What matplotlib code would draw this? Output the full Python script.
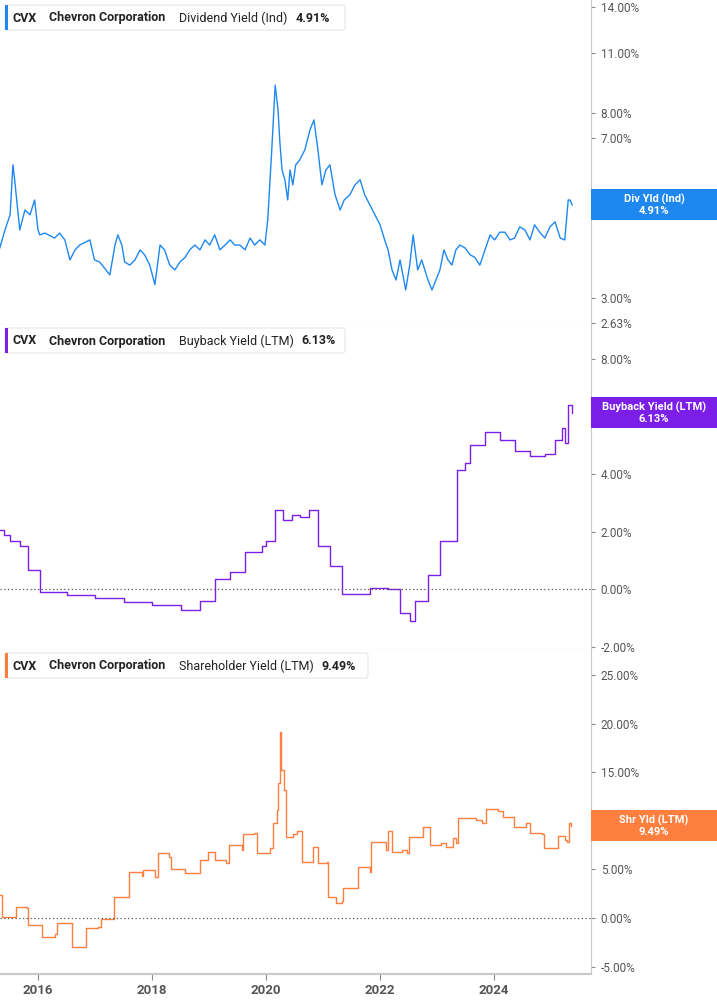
import matplotlib
matplotlib.use("Agg")
import matplotlib.pyplot as plt
from matplotlib.patches import Rectangle, FancyBboxPatch

plt.rcParams["font.family"] = "Roboto"

# Dividend yield (Ind), %
div_dates = [2015.33, 2015.42, 2015.51, 2015.56, 2015.59, 2015.68, 2015.77, 2015.86, 2015.94, 2016.00,
             2016.03, 2016.12, 2016.29, 2016.38, 2016.47, 2016.56, 2016.65, 2016.73, 2016.91, 2016.99,
             2017.08, 2017.26, 2017.35, 2017.40, 2017.47, 2017.52, 2017.61, 2017.70, 2017.79, 2017.87,
             2017.96, 2018.05, 2018.14, 2018.22, 2018.31, 2018.40, 2018.49, 2018.58, 2018.66, 2018.75,
             2018.84, 2018.93, 2019.01, 2019.10, 2019.19, 2019.28, 2019.37, 2019.45, 2019.54, 2019.63,
             2019.72, 2019.80, 2019.89, 2019.98, 2020.03, 2020.07, 2020.10, 2020.16, 2020.21, 2020.24,
             2020.28, 2020.33, 2020.38, 2020.42, 2020.47, 2020.52, 2020.59, 2020.68, 2020.77, 2020.84,
             2020.91, 2020.98, 2021.05, 2021.12, 2021.21, 2021.30, 2021.37, 2021.47, 2021.56, 2021.65,
             2021.73, 2021.82, 2021.91, 2022.00, 2022.08, 2022.14, 2022.21, 2022.28, 2022.35, 2022.40,
             2022.45, 2022.52, 2022.58, 2022.66, 2022.73, 2022.84, 2022.91, 2022.98, 2023.05, 2023.12,
             2023.19, 2023.26, 2023.33, 2023.40, 2023.49, 2023.58, 2023.66, 2023.75, 2023.84, 2023.93,
             2024.01, 2024.10, 2024.19, 2024.28, 2024.36, 2024.45, 2024.54, 2024.63, 2024.71, 2024.80,
             2024.89, 2024.98, 2025.07, 2025.16, 2025.24, 2025.30, 2025.33, 2025.37]
div_vals = [3.91, 4.30, 4.66, 6.07, 5.61, 4.30, 4.78, 4.66, 5.04, 4.30,
            4.19, 4.23, 4.12, 4.23, 4.08, 3.67, 3.87, 3.97, 4.08, 3.67,
            3.63, 3.39, 3.97, 4.19, 3.97, 3.63, 3.57, 3.67, 3.87, 3.77,
            3.57, 3.22, 3.97, 3.87, 3.57, 3.48, 3.63, 3.72, 3.87, 3.97,
            3.87, 4.08, 3.97, 4.19, 3.87, 3.97, 4.08, 3.97, 3.97, 3.87,
            4.12, 3.97, 4.08, 3.97, 4.54, 5.61, 6.57, 9.26, 8.12, 6.92,
            5.91, 5.61, 5.04, 5.91, 5.46, 6.07, 6.23, 6.57, 7.30, 7.70,
            6.57, 5.46, 5.91, 6.07, 5.18, 4.78, 5.04, 5.18, 5.46, 5.61,
            5.18, 4.91, 4.66, 4.42, 4.08, 3.87, 3.48, 3.30, 3.67, 3.39,
            3.13, 3.57, 4.19, 3.48, 3.67, 3.30, 3.13, 3.30, 3.48, 3.87,
            3.67, 3.57, 3.87, 3.97, 3.91, 3.77, 3.72, 3.57, 3.87, 4.19,
            4.08, 4.25, 4.25, 4.08, 4.12, 4.37, 4.30, 4.08, 4.42, 4.25,
            4.12, 4.37, 4.49, 4.12, 4.08, 5.04, 5.04, 4.91]

# Buyback yield (LTM), %
bb_dates = [2015.33, 2015.40, 2015.51, 2015.68, 2015.82, 2016.03, 2016.50, 2017.00, 2017.50, 2018.00,
            2018.50, 2018.84, 2019.10, 2019.37, 2019.63, 2019.93, 2020.00, 2020.16, 2020.30, 2020.45,
            2020.60, 2020.75, 2020.91, 2021.12, 2021.33, 2021.82, 2022.14, 2022.35, 2022.53, 2022.61,
            2022.84, 2023.05, 2023.35, 2023.49, 2023.58, 2023.84, 2024.10, 2024.36, 2024.63, 2024.89,
            2025.07, 2025.19, 2025.24, 2025.30, 2025.37]
bb_vals = [2.05, 1.90, 1.70, 1.50, 0.66, -0.10, -0.20, -0.30, -0.45, -0.55,
           -0.70, -0.40, 0.38, 0.60, 1.30, 1.50, 1.70, 2.75, 2.40, 2.60,
           2.50, 2.75, 1.50, 0.80, -0.15, 0.05, 0.00, -0.80, -1.10, -0.40,
           0.50, 1.70, 4.14, 4.40, 5.00, 5.46, 5.20, 4.80, 4.65, 4.70,
           5.20, 5.60, 5.10, 6.40, 6.13]

# Shareholder yield (LTM), %
sh_dates = [2015.33, 2015.37, 2015.61, 2015.80, 2015.82, 2016.07, 2016.30, 2016.33, 2016.58, 2016.60,
            2016.82, 2016.84, 2017.05, 2017.11, 2017.32, 2017.33, 2017.58, 2017.60, 2017.82, 2017.84,
            2018.05, 2018.11, 2018.30, 2018.33, 2018.58, 2018.79, 2018.84, 2018.98, 2019.10, 2019.30,
            2019.35, 2019.58, 2019.60, 2019.79, 2019.84, 2020.07, 2020.12, 2020.19, 2020.21, 2020.24,
            2020.26, 2020.32, 2020.35, 2020.47, 2020.54, 2020.63, 2020.82, 2020.91, 2021.07, 2021.09,
            2021.23, 2021.33, 2021.35, 2021.58, 2021.61, 2021.82, 2021.84, 2022.04, 2022.11, 2022.14,
            2022.21, 2022.39, 2022.47, 2022.51, 2022.75, 2022.88, 2023.07, 2023.16, 2023.28, 2023.33,
            2023.37, 2023.68, 2023.79, 2023.86, 2024.07, 2024.16, 2024.35, 2024.56, 2024.63, 2024.84,
            2024.88, 2025.04, 2025.12, 2025.25, 2025.28, 2025.32, 2025.35]
sh_vals = [2.4, 0.1, 1.1, 1.0, -0.7, -1.9, -1.6, -0.5, -0.5, -3.0,
           -3.0, -1.0, -0.9, -0.1, -0.1, 2.2, 2.2, 4.7, 4.3, 4.9,
           4.2, 6.7, 6.3, 5.0, 4.6, 4.6, 6.0, 6.8, 6.0, 5.7,
           7.5, 7.0, 8.7, 8.8, 6.7, 7.2, 9.8, 11.1, 13.9, 19.2,
           15.2, 13.2, 8.3, 8.7, 9.0, 5.8, 7.3, 5.7, 5.8, 2.2,
           1.6, 1.8, 3.1, 3.1, 5.3, 4.7, 7.8, 7.8, 7.0, 9.0,
           6.8, 7.0, 6.7, 8.3, 9.4, 7.5, 7.7, 7.3, 8.2, 7.7,
           10.3, 10.1, 9.8, 11.2, 11.0, 10.4, 9.4, 9.8, 8.8, 8.7,
           7.2, 7.2, 8.5, 8.0, 7.8, 9.8, 9.49]

year_ticks = [2016, 2018, 2020, 2022, 2024]

W, H = 717, 1005
fig = plt.figure(figsize=(W / 100, H / 100), dpi=100)
gray = "#555555"
line_gray = "#c8c8c8"
plot_w = 591 / W

panels = [
    # top px, bottom px, dates, vals, color, metric, value label, side label, ylim, ticks, log, steps
    (0, 325, div_dates, div_vals, "#1e88f0", "Dividend Yield (Ind)", "4.91%", "Div Yld (Ind)",
     (2.60, 14.53), [2.63, 3, 7, 8, 11, 14], True, False),
    (325, 650, bb_dates, bb_vals, "#7b1fe8", "Buyback Yield (LTM)", "6.13%", "Buyback Yield (LTM)",
     (-2.1, 9.18), [-2, 0, 2, 4, 8], False, True),
    (650, 974, sh_dates, sh_vals, "#ff7f3f", "Shareholder Yield (LTM)", "9.49%", "Shr Yld (LTM)",
     (-5.76, 27.6), [-5, 0, 5, 15, 20, 25], False, True),
]

for i, (top, bot, xs, ys, col, metric, vlabel, slabel, ylim, ticks, logy, steps) in enumerate(panels):
    ax = fig.add_axes([0, 1 - bot / H, plot_w, (bot - top) / H])
    if logy:
        ax.set_yscale("log")
    if steps:
        ax.plot(xs, ys, color=col, lw=1.0, drawstyle="steps-post")
    else:
        ax.plot(xs, ys, color=col, lw=1.0)
    if not logy:
        ax.axhline(0, color="#555555", lw=0.9, ls=(0, (1, 2)))
    ax.set_xlim(2015.333, 2025.70)
    ax.set_ylim(*ylim)
    ax.yaxis.tick_right()
    ax.set_yticks(ticks)
    ax.set_yticklabels([f"{t:.2f}%" for t in ticks])
    ax.minorticks_off()
    ax.tick_params(axis="y", colors="#888888", labelcolor=gray, labelsize=8.5, length=3, pad=4)
    for s in ["top", "left"]:
        ax.spines[s].set_visible(False)
    ax.spines["right"].set_color(line_gray)
    ax.spines["bottom"].set_color(line_gray)
    if i == 2:
        ax.set_xticks(year_ticks)
        ax.set_xticklabels([str(y) for y in year_ticks])
        ax.tick_params(axis="x", colors="#888888", labelcolor=gray, labelsize=9.5, length=4)
        for lb in ax.get_xticklabels():
            lb.set_fontweight("bold")
        ax.spines["bottom"].set_linewidth(1.5)
    else:
        ax.set_xticks([])

    # header box
    hx, hy = 5, top + 5 if i == 0 else top + 3
    hw = 340 if i < 2 else 363
    box = FancyBboxPatch((hx / W, 1 - (hy + 25) / H), hw / W, 25 / H,
                         boxstyle="round,pad=0,rounding_size=0.003", transform=fig.transFigure,
                         fc="white", ec="#e6e6e6", lw=0.8, zorder=5)
    fig.add_artist(box)
    fig.add_artist(Rectangle((hx / W, 1 - (hy + 25) / H), 3 / W, 25 / H, transform=fig.transFigure,
                             fc=col, ec="none", zorder=6))
    ty = 1 - (hy + 13) / H
    fig.text(13 / W, ty, "CVX", fontsize=9, fontweight="bold", color="#222222", va="center", zorder=7)
    fig.text(49 / W, ty, "Chevron Corporation", fontsize=9, fontweight="bold", color="#222222",
             va="center", zorder=7)
    mt = fig.text(179 / W, ty, metric, fontsize=9, color="#222222", va="center", zorder=7)
    fig.canvas.draw()
    bb = mt.get_window_extent()
    fig.text((bb.x1 + 8) / W, ty, vlabel, fontsize=9, fontweight="bold", color="#222222",
             va="center", zorder=7)

    # side label at last value
    ypix = ax.transData.transform((xs[-1], ys[-1]))[1]
    fig.add_artist(Rectangle((plot_w, (ypix - 15.5) / H), 1 - plot_w, 31 / H, transform=fig.transFigure,
                             fc=col, ec="none", zorder=8))
    cx = (plot_w + 1) / 2
    fig.text(cx, (ypix + 6) / H, slabel, fontsize=8, fontweight="bold", color="white",
             ha="center", va="center", zorder=9)
    fig.text(cx, (ypix - 6) / H, vlabel, fontsize=8, fontweight="bold", color="white",
             ha="center", va="center", zorder=9)

fig.savefig("out.png", dpi=100)
